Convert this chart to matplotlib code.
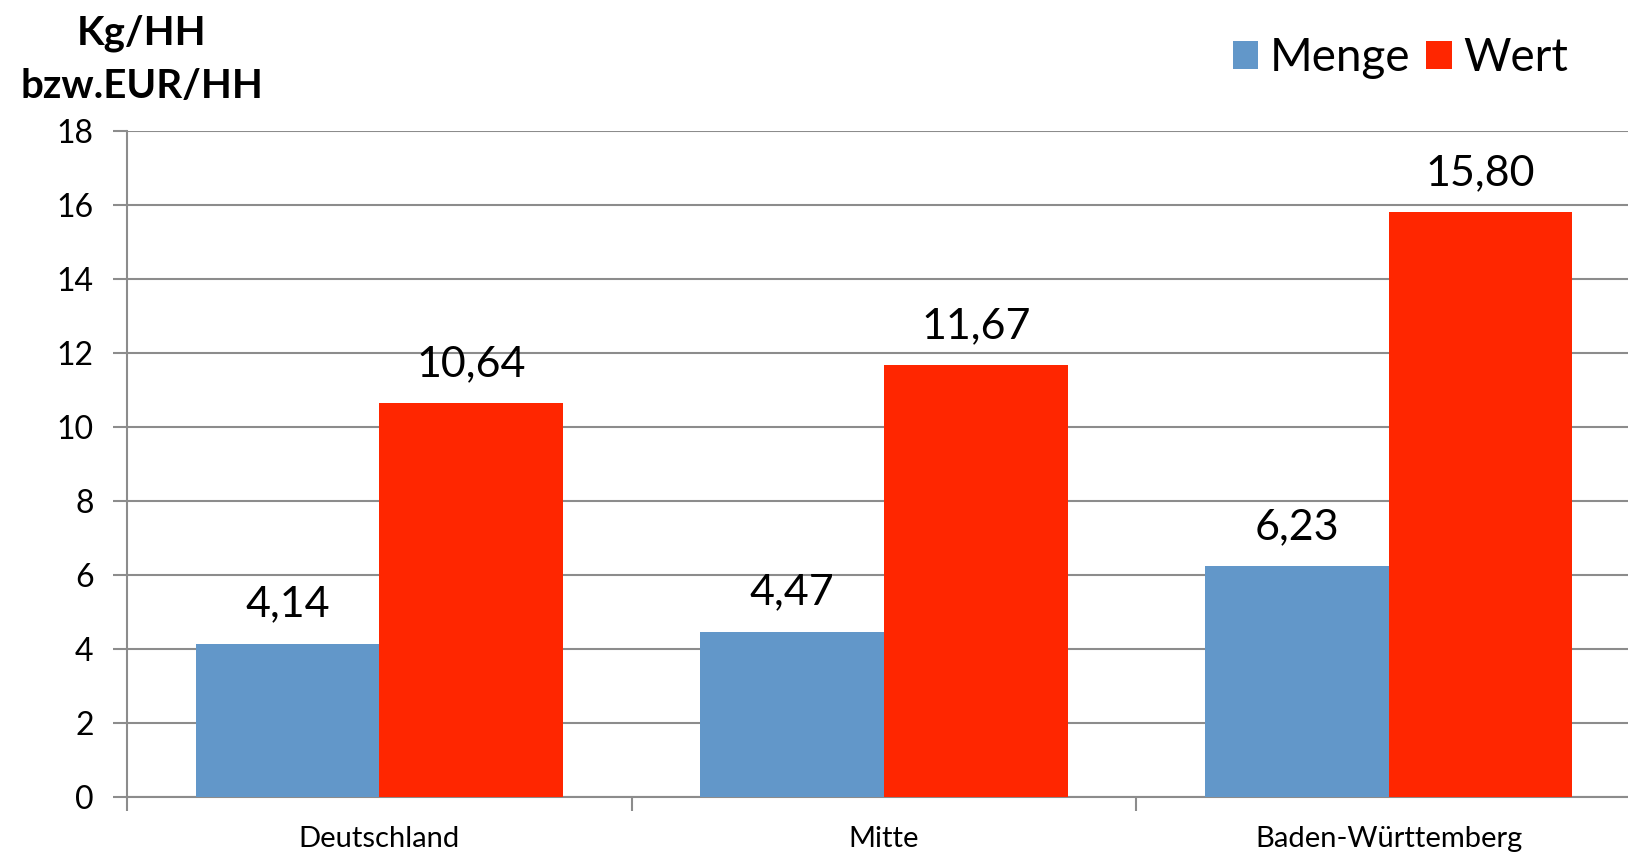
import matplotlib.pyplot as plt
import numpy as np

regions = ["Deutschland", "Mitte", "Baden-Württemberg"]
menge = [4.14, 4.47, 6.23]
wert = [10.64, 11.67, 15.80]
menge_labels = ["4,14", "4,47", "6,23"]
wert_labels = ["10,64", "11,67", "15,80"]

plt.rcParams['font.family'] = ['Lato', 'DejaVu Sans']

fig = plt.figure(figsize=(16.28, 8.56), dpi=100)
# axis runs slightly past the right edge of the figure
ax = fig.add_axes([127 / 1628, 1 - 797 / 856, 1514 / 1628, 666 / 856])

x = np.arange(len(regions))
w = 0.364
b1 = ax.bar(x - w / 2, menge, w, color='#6297C9', label='Menge', zorder=3)
b2 = ax.bar(x + w / 2, wert, w, color='#FF2600', label='Wert', zorder=3)

for rect, lab in zip(b1, menge_labels):
    ax.text(rect.get_x() + rect.get_width() / 2, rect.get_height() + 0.55, lab,
            ha='center', va='bottom', fontsize=31)
for rect, lab in zip(b2, wert_labels):
    ax.text(rect.get_x() + rect.get_width() / 2, rect.get_height() + 0.55, lab,
            ha='center', va='bottom', fontsize=31)

ax.set_xlim(-0.5, 2.5)
ax.set_ylim(0, 18)
ax.set_yticks(range(0, 19, 2))
ax.yaxis.grid(True, color='#8C8C8C', linewidth=1.5, zorder=0)
ax.set_xticks(x)
ax.set_xticklabels(regions, fontsize=21)
ax.tick_params(axis='x', length=0, pad=21)
ax.set_xticks([-0.5, 0.5, 1.5, 2.5], minor=True)
ax.tick_params(axis='x', which='minor', length=10, width=1.5, color='#8C8C8C')
ax.tick_params(axis='y', labelsize=23, length=10, width=1.5, color='#8C8C8C', pad=14)

for s in ['top', 'right']:
    ax.spines[s].set_visible(False)
for s in ['left', 'bottom']:
    ax.spines[s].set_color('#8C8C8C')
    ax.spines[s].set_linewidth(1.5)

fig.text(142 / 1628, 1 - 60 / 856, "Kg/HH\nbzw.EUR/HH", ha='center', va='center',
         fontsize=29, fontweight='bold', linespacing=1.55)

ax.legend(loc='upper left', bbox_to_anchor=(1192 / 1628, 1 + 4 / 856),
          bbox_transform=fig.transFigure, ncol=2, frameon=False, fontsize=33,
          handlelength=0.55, handleheight=0.55, handletextpad=0.25, columnspacing=0.35)

fig.savefig('out.png', dpi=100)
